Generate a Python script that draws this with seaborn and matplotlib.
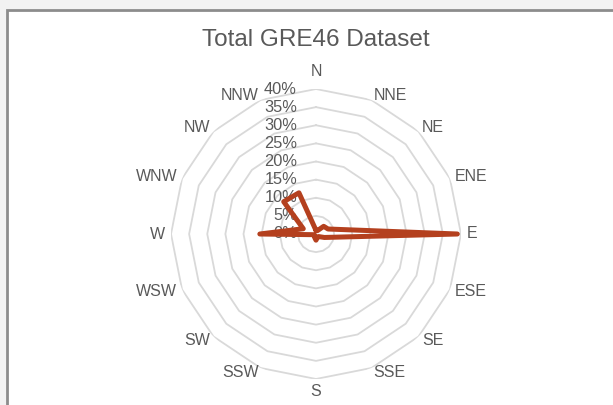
import numpy as np
import matplotlib.pyplot as plt
import seaborn as sns
from matplotlib.patches import Rectangle

# wind direction frequencies (% of records)
directions = ['N', 'NNE', 'NE', 'ENE', 'E', 'ESE', 'SE', 'SSE',
              'S', 'SSW', 'SW', 'WSW', 'W', 'WNW', 'NW', 'NNW']
freq = [1.0, 1.0, 3.0, 3.6, 39.0, 2.5, 1.0, 1.0,
        1.7, 1.0, 0.5, 0.5, 15.5, 3.8, 12.6, 12.3]
ring_ticks = [0, 5, 10, 15, 20, 25, 30, 35, 40]

sns.set_theme(style="white")
plt.rcParams['font.family'] = ['Liberation Sans', 'DejaVu Sans']

W, H = 613, 405
fig = plt.figure(figsize=(W / 100, H / 100), dpi=100)
fig.patch.set_facecolor('#f2f2f2')

# chart area (white) with grey frame on left/top
fig.patches.append(Rectangle((7 / W, -0.1), 1.2, (H - 10) / H + 0.1,
                             transform=fig.transFigure, facecolor='white',
                             edgecolor='#8c8c8c', linewidth=2, zorder=-5))

cx, cy, R = 316, 234, 145
ax = fig.add_axes([(cx - R) / W, (H - cy - R) / H, 2 * R / W, 2 * R / H],
                  projection='polar')
ax.set_zorder(2)
ax.set_theta_zero_location('N')
ax.set_theta_direction(-1)
ax.set_ylim(0, 40)
ax.set_facecolor('none')
ax.grid(False)
ax.spines['polar'].set_visible(False)
ax.set_xticks([])
ax.set_yticks([])

theta = np.deg2rad(np.arange(len(directions)) * 22.5)
closed = np.append(theta, theta[0])

# polygon gridlines only (no spokes)
grid_col = '#d9d9d9'
for r in ring_ticks[1:]:
    ax.plot(closed, [r] * len(closed), color=grid_col, lw=1.3, zorder=1)

txt_col = '#595959'
for r in ring_ticks:
    ax.annotate(f'{r}%', (0, r), xytext=(-19, 0), textcoords='offset pixels',
                ha='right', va='center', fontsize=11.8, color=txt_col,
                zorder=2, annotation_clip=False)

# data polygon
sns.lineplot(x=closed, y=np.append(freq, freq[0]), ax=ax, sort=False,
             color='#b4401e', lw=3.6, zorder=3, estimator=None)
ax.set_xlabel('')
ax.set_ylabel('')

for t, name in zip(theta, directions):
    s, c = np.sin(t), np.cos(t)
    ha = 'left' if s > 0.1 else ('right' if s < -0.1 else 'center')
    off = 5
    if name == 'N':
        off = 17
    elif name == 'S':
        off = 13
    elif name in ('W', 'E'):
        off = 6
    ax.annotate(name, (t, 40), xytext=(off * s, off * c),
                textcoords='offset pixels', ha=ha, va='center',
                fontsize=11.5, color=txt_col, annotation_clip=False)

fig.text(cx / W, 1 - 40 / H, 'Total GRE46 Dataset', ha='center',
         va='center', fontsize=17.5, color=txt_col)

fig.savefig('out.png', dpi=100)
